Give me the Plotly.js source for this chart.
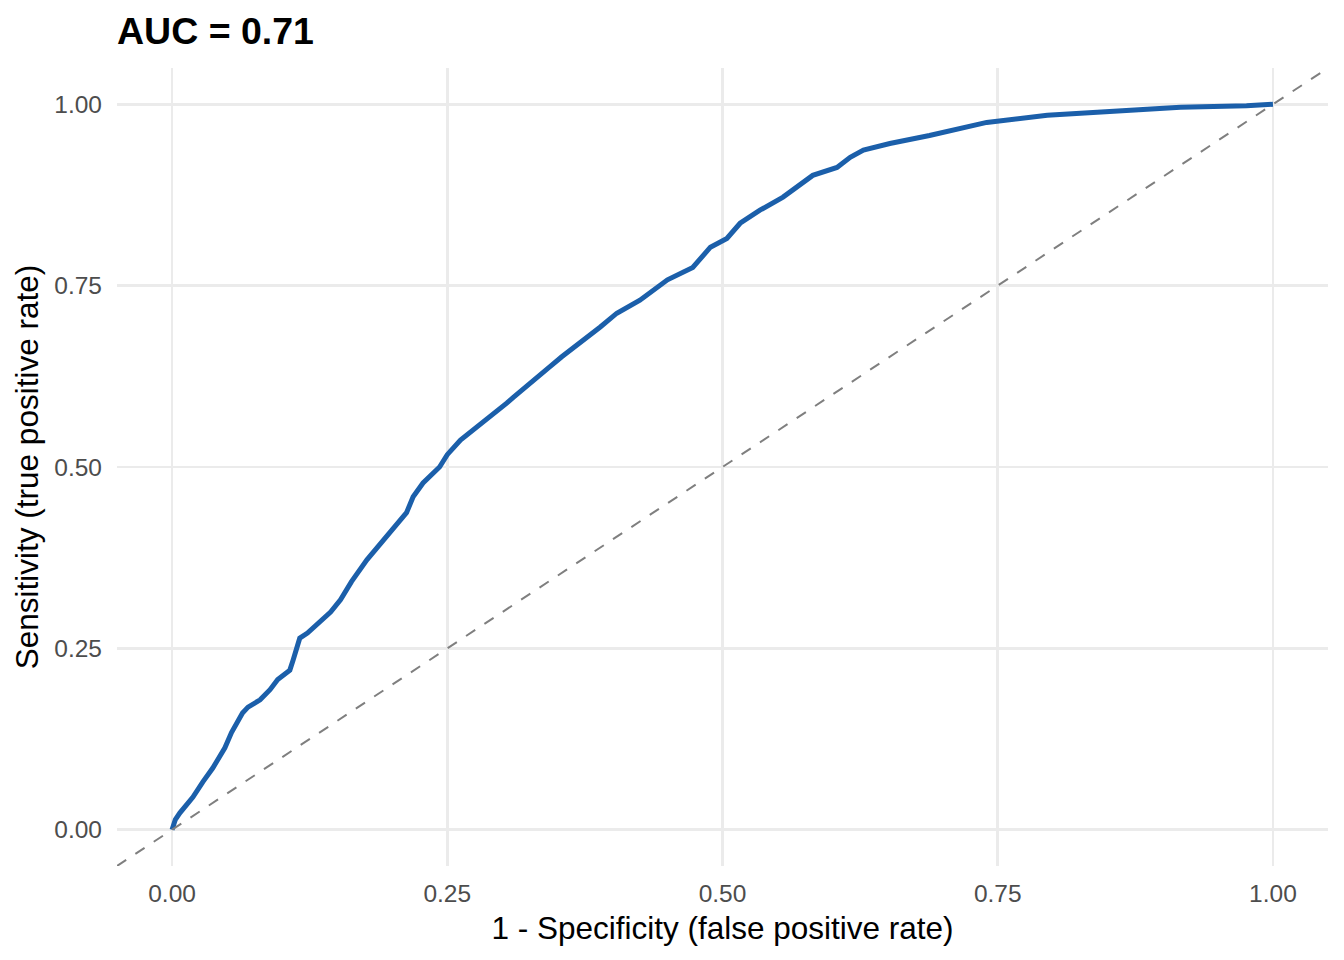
<!DOCTYPE html>
<html>
<head>
<meta charset="utf-8">
<script src="https://cdn.plot.ly/plotly-3.0.1.min.js"></script>
<style>
  html, body { margin: 0; padding: 0; background: #ffffff; }
  #chart { width: 1344px; height: 960px; }
</style>
</head>
<body>
<div id="chart"></div>
<script>
// ROC curve points: false positive rate vs. true positive rate
const fpr = [0.000, 0.001, 0.003, 0.007, 0.019, 0.028, 0.037, 0.048, 0.054, 0.064,
             0.069, 0.080, 0.089, 0.096, 0.107, 0.110, 0.114, 0.116, 0.123, 0.134,
             0.144, 0.153, 0.163, 0.177, 0.192, 0.204, 0.213, 0.219, 0.228, 0.243,
             0.250, 0.262, 0.280, 0.304, 0.310, 0.328, 0.343, 0.354, 0.371, 0.389,
             0.404, 0.425, 0.450, 0.459, 0.473, 0.489, 0.504, 0.516, 0.534, 0.555,
             0.564, 0.582, 0.604, 0.616, 0.628, 0.652, 0.688, 0.722, 0.740, 0.795,
             0.855, 0.916, 0.976, 1.000];
const tpr = [0.000, 0.004, 0.014, 0.023, 0.045, 0.066, 0.085, 0.113, 0.134, 0.161,
             0.169, 0.179, 0.193, 0.207, 0.220, 0.234, 0.252, 0.264, 0.271, 0.287,
             0.300, 0.317, 0.342, 0.372, 0.399, 0.423, 0.437, 0.459, 0.478, 0.500,
             0.517, 0.537, 0.558, 0.588, 0.596, 0.620, 0.638, 0.652, 0.671, 0.693,
             0.712, 0.730, 0.758, 0.764, 0.775, 0.803, 0.815, 0.836, 0.854, 0.872,
             0.882, 0.902, 0.913, 0.927, 0.937, 0.946, 0.957, 0.968, 0.975, 0.985,
             0.990, 0.996, 0.998, 1.000];
const aucValue = 0.71;

// Axis ticks shared by both axes
const tickValues = [0, 0.25, 0.5, 0.75, 1];
const tickLabels = ['0.00', '0.25', '0.50', '0.75', '1.00'];
// Both axes span the unit interval padded by 5%; the chance line runs corner to corner
const axisRange = [-0.05, 1.05];

const FONT = '"Liberation Sans", Arial, sans-serif';

const rocTrace = {
  x: fpr,
  y: tpr,
  type: 'scatter',
  mode: 'lines',
  line: { color: '#1b5faa', width: 5 },
  hoverinfo: 'x+y',
  showlegend: false
};

const chanceTrace = {
  x: axisRange,
  y: axisRange,
  type: 'scatter',
  mode: 'lines',
  line: { color: '#7f7f7f', width: 2, dash: '11px,11px' },
  hoverinfo: 'skip',
  showlegend: false
};

const axisCommon = {
  range: axisRange,
  tickvals: tickValues,
  ticktext: tickLabels,
  showgrid: true,
  gridcolor: '#ebebeb',
  gridwidth: 2.5,
  zeroline: false,
  showline: false,
  ticks: '',
  tickfont: { family: FONT, size: 24.5, color: '#4d4d4d' },
  fixedrange: true,
  automargin: false
};

const layout = {
  width: 1344,
  height: 960,
  paper_bgcolor: '#ffffff',
  plot_bgcolor: '#ffffff',
  margin: { l: 117, r: 16, t: 68, b: 94 },
  font: { family: FONT },
  title: {
    text: '<b>AUC = ' + aucValue.toFixed(2) + '</b>',
    font: { family: FONT, size: 37.5, color: '#000000' },
    xref: 'paper',
    x: 0,
    xanchor: 'left',
    yref: 'container',
    y: 1 - 31 / 960,
    yanchor: 'middle'
  },
  xaxis: Object.assign({}, axisCommon, {
    ticklabelstandoff: 10,
    title: {
      text: '1 - Specificity (false positive rate)',
      font: { family: FONT, size: 31.5, color: '#000000' },
      standoff: 11
    }
  }),
  yaxis: Object.assign({}, axisCommon, {
    ticklabelstandoff: 14,
    title: {
      text: 'Sensitivity (true positive rate)',
      font: { family: FONT, size: 31.5, color: '#000000' },
      standoff: 6
    }
  })
};

Plotly.newPlot('chart', [rocTrace, chanceTrace], layout, { displayModeBar: false, staticPlot: true });
</script>
</body>
</html>
